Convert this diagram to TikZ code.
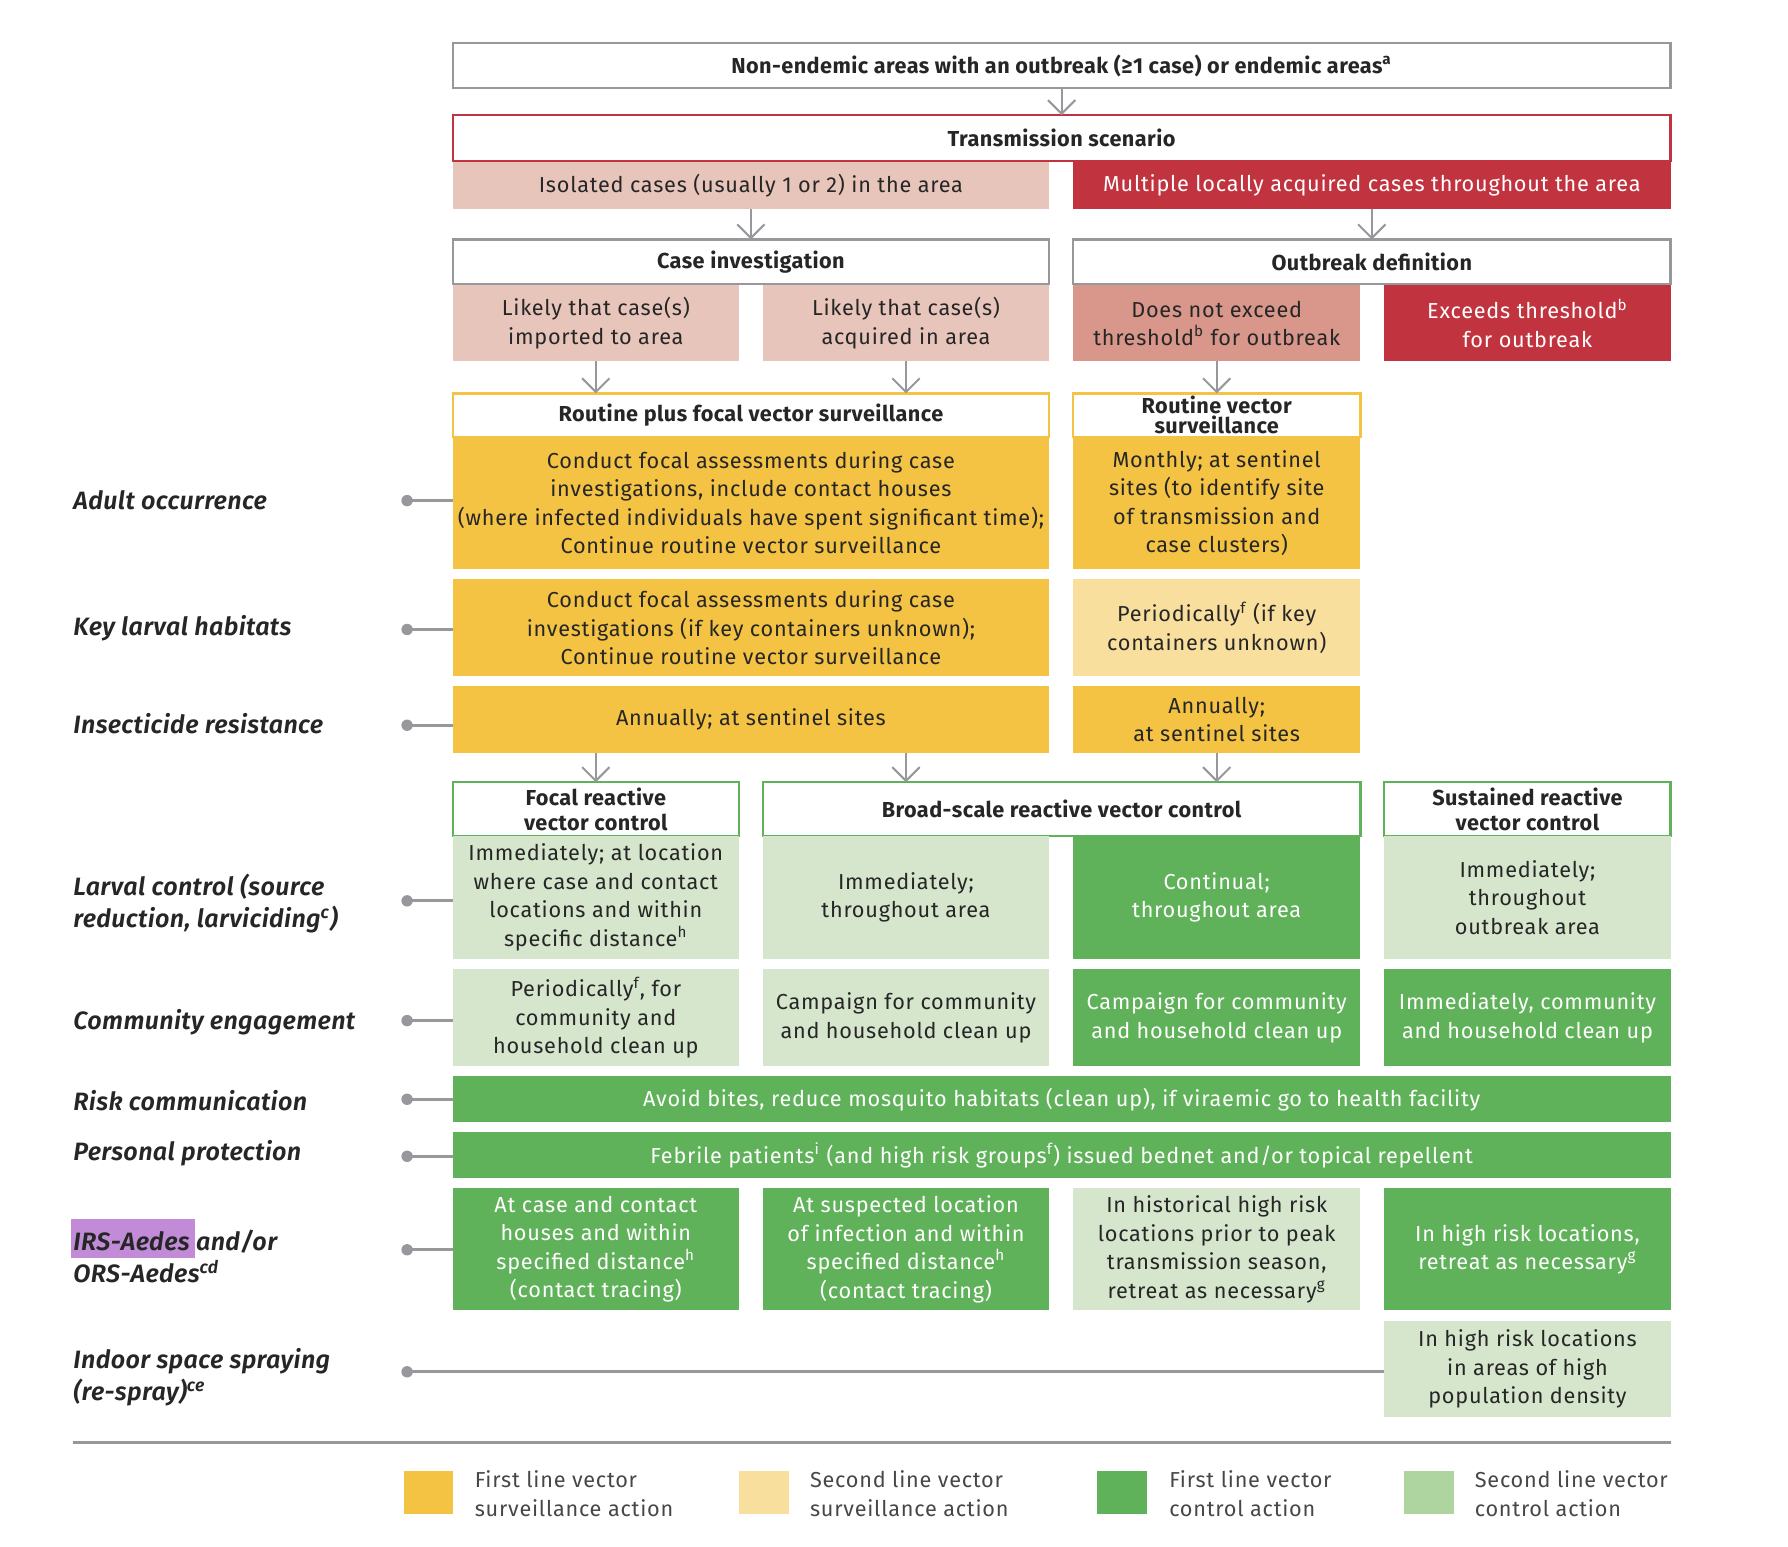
\documentclass[tikz,border=0pt]{standalone}
\usepackage{fontspec}
\setmainfont{Fira Sans}[LetterSpace=3.5, BoldFeatures={LetterSpace=2}]
\newfontfamily\labfont{Fira Sans SemiBold Italic}[LetterSpace=1.5]
\usetikzlibrary{arrows.meta}
\usetikzlibrary{calc}

\definecolor{ink}{HTML}{262626}
\definecolor{yel}{HTML}{F4C343}
\definecolor{ltyel}{HTML}{F9DF9D}
\definecolor{grn}{HTML}{5FB259}
\definecolor{ltgrn}{HTML}{D5E6CD}
\definecolor{lggrn}{HTML}{AED4A0}
\definecolor{pnk}{HTML}{E8C5BB}
\definecolor{dkpnk}{HTML}{D8978A}
\definecolor{rd}{HTML}{C1343F}
\definecolor{gry}{HTML}{97989C}
\definecolor{hilite}{HTML}{C18BD7}

\tikzset{
  wh/.style 2 args={minimum width=#1*0.5pt, minimum height=#2*0.5pt, anchor=north west},
  cell/.style={inner sep=0pt, outer sep=0pt, align=center, text=ink},
  hdr/.style={cell, draw=#1, line width=1pt, fill=white, font=\bfseries\fontsize{9.5}{11}\selectfont},
  dark/.style={cell, fill=#1, text=white},
  lite/.style={cell, fill=#1},
  arr/.style={draw=gry, line width=0.9pt, -{Straight Barb[length=6pt,width=12pt]}},
  conn/.style={draw=gry, line width=1.3pt},
  lab/.style={anchor=west, align=left, inner sep=0pt, text=ink,
    font=\labfont\fontsize{11}{14}\selectfont},
  legtxt/.style={anchor=west, align=left, inner sep=0pt, text=ink!85}
}

\begin{document}
\begin{tikzpicture}[x=0.5pt, y=-0.5pt, font=\fontsize{9.5}{12.5}\selectfont]
\useasboundingbox (0,0) rectangle (1568,1356);

% scenario part
\node[hdr=gry, wh={1068}{39}] (top) at (397,38) {Non-endemic areas with an outbreak (≥1 case) or endemic areas\textsuperscript{a}};
\node[hdr=rd, wh={1068}{40}] (trans) at (397,101) {Transmission scenario};
\node[lite=pnk, wh={523}{41}] (isol) at (397,142) {Isolated cases (usually 1 or 2) in the area};
\node[dark=rd, wh={524}{41}] (multi) at (941,142) {Multiple locally acquired cases throughout the area};

\node[hdr=gry, wh={523}{39}] (caseinv) at (397,210) {Case investigation};
\node[hdr=gry, wh={524}{39}] (outdef) at (941,210) {Outbreak definition};
\node[lite=pnk, wh={251}{67}] (imp) at (397,250) {Likely that case(s)\\imported to area};
\node[lite=pnk, wh={251}{67}] (acq) at (669,250) {Likely that case(s)\\acquired in area};
\node[lite=dkpnk, wh={252}{67}] (noexc) at (941,250) {Does not exceed\\threshold\textsuperscript{b} for outbreak};
\node[dark=rd, wh={251}{67}] (exc) at (1214,250) {Exceeds threshold\textsuperscript{b}\\for outbreak};

% surveillance
\node[hdr=yel, wh={523}{38}] (rpfHead) at (397,345) {Routine plus focal vector surveillance};
\node[hdr=yel, wh={252}{38}, font=\bfseries\fontsize{9.5}{9}\selectfont] (rvsHead) at (941,345) {Routine vector\\surveillance};
\node[lite=yel, wh={523}{116}] (adultL) at (397,383) {Conduct focal assessments during case\\investigations, include contact houses\\(where infected individuals have spent significant time);\\Continue routine vector surveillance};
\node[lite=yel, wh={252}{116}] (adultR) at (941,383) {Monthly; at sentinel\\sites (to identify site\\of transmission and\\case clusters)};
\node[lite=yel, wh={523}{85}] (larvL) at (397,508) {Conduct focal assessments during case\\investigations (if key containers unknown);\\Continue routine vector surveillance};
\node[lite=ltyel, wh={252}{85}] (larvR) at (941,508) {Periodically\textsuperscript{f} (if key\\containers unknown)};
\node[lite=yel, wh={523}{58}] (insL) at (397,602) {Annually; at sentinel sites};
\node[lite=yel, wh={252}{58}] (insR) at (941,602) {Annually;\\at sentinel sites};

% control
\node[hdr=grn, wh={251}{47}] (focHead) at (397,686) {Focal reactive\\vector control};
\node[hdr=grn, wh={524}{47}] (broadHead) at (669,686) {Broad-scale reactive vector control};
\node[hdr=grn, wh={251}{47}] (susHead) at (1214,686) {Sustained reactive\\vector control};

\node[lite=ltgrn, wh={251}{108}] (lcA) at (397,733) {Immediately; at location\\where case and contact\\locations and within\\specific distance\textsuperscript{h}};
\node[lite=ltgrn, wh={251}{108}] (lcB) at (669,733) {Immediately;\\throughout area};
\node[dark=grn, wh={252}{108}] (lcC) at (941,733) {Continual;\\throughout area};
\node[lite=ltgrn, wh={251}{108}] (lcD) at (1214,733) {Immediately;\\throughout\\outbreak area};

\node[lite=ltgrn, wh={251}{85}] (ceA) at (397,850) {Periodically\textsuperscript{f}, for\\community and\\household clean up};
\node[lite=ltgrn, wh={251}{85}] (ceB) at (669,850) {Campaign for community\\and household clean up};
\node[dark=grn, wh={252}{85}] (ceC) at (941,850) {Campaign for community\\and household clean up};
\node[dark=grn, wh={251}{85}] (ceD) at (1214,850) {Immediately, community\\and household clean up};

\node[dark=grn, wh={1068}{40}] (risk) at (397,944) {Avoid bites, reduce mosquito habitats (clean up), if viraemic go to health facility};
\node[dark=grn, wh={1068}{40}] (pers) at (397,993) {Febrile patients\textsuperscript{i} (and high risk groups\textsuperscript{f}) issued bednet and/or topical repellent};

\node[dark=grn, wh={251}{107}] (irsA) at (397,1042) {At case and contact\\houses and within\\specified distance\textsuperscript{h}\\(contact tracing)};
\node[dark=grn, wh={251}{107}] (irsB) at (669,1042) {At suspected location\\of infection and within\\specified distance\textsuperscript{h}\\(contact tracing)};
\node[lite=ltgrn, wh={252}{107}] (irsC) at (941,1042) {In historical high risk\\locations prior to peak\\transmission season,\\retreat as necessary\textsuperscript{g}};
\node[dark=grn, wh={251}{107}] (irsD) at (1214,1042) {In high risk locations,\\retreat as necessary\textsuperscript{g}};
\node[lite=ltgrn, wh={251}{85}] (indD) at (1214,1158) {In high risk locations\\in areas of high\\population density};

% arrows
\draw[arr] (top) -- (trans);
\draw[arr] (isol) -- (caseinv);
\draw[arr] (multi) -- (outdef);
\draw[arr] (imp) -- (imp |- rpfHead.north);
\draw[arr] (acq) -- (acq |- rpfHead.north);
\draw[arr] (noexc) -- (rvsHead);
\draw[arr] (insL.south -| imp) -- (focHead);
\draw[arr] (insL.south -| acq) -- (acq |- broadHead.north);
\draw[arr] (insR) -- (insR |- broadHead.north);

% row labels
\fill[hilite] (62,1069) rectangle (171,1103);
\node[lab] (lAdult) at (64,439) {Adult occurrence};
\node[lab] (lLarv) at (64,551) {Key larval habitats};
\node[lab] (lIns) at (64,635) {Insecticide resistance};
\node[lab] (lLc) at (64,792) {Larval control (source\\reduction, larviciding\textsuperscript{c})};
\node[lab] (lCe) at (64,896) {Community engagement};
\node[lab] (lRisk) at (64,965) {Risk communication};
\node[lab] (lPers) at (64,1011) {Personal protection};
\node[lab] (lIrs) at (64,1102) {IRS-Aedes and/or\\ORS-Aedes\textsuperscript{cd}};
\node[lab] (lInd) at (64,1208) {Indoor space spraying\\(re-spray)\textsuperscript{ce}};

\foreach \n/\y in {adultL/439, larvL/552, insL/636, lcA/790, ceA/895, risk/964, pers/1014, irsA/1096, indD/1203} {
  \coordinate (d\n) at (357,\y);
  \draw[conn] (d\n) -- (d\n -| \n.west);
  \fill[gry] (d\n) circle (2.5pt);
}

\draw[gry, line width=1.3pt] (64,1265) -- (1465,1265);

% legend
\node[lite=yel, wh={43}{38}] (lgA) at (354,1290) {};
\node[lite=ltyel, wh={44}{38}] (lgB) at (648,1290) {};
\node[lite=grn, wh={44}{38}] (lgC) at (962,1290) {};
\node[lite=lggrn, wh={44}{38}] (lgD) at (1231,1290) {};
\node[legtxt] (lgAt) at (416,1310) {First line vector\\surveillance action};
\node[legtxt] (lgBt) at (710,1310) {Second line vector\\surveillance action};
\node[legtxt] (lgCt) at (1025,1310) {First line vector\\control action};
\node[legtxt] (lgDt) at (1293,1310) {Second line vector\\control action};

\end{tikzpicture}
\end{document}
